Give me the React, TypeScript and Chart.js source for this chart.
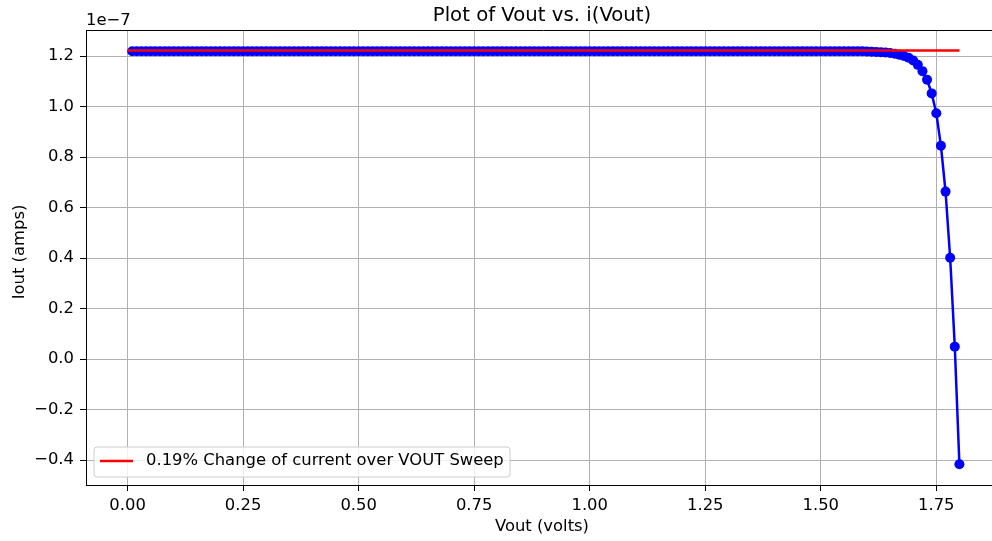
import { useEffect, useRef } from 'react';
import { Chart, registerables } from 'chart.js';

Chart.register(...registerables);

const FONT = '"DejaVu Sans", sans-serif';

// Vout sweep (volts)
const vout = [
  0.01, 0.02, 0.03, 0.04, 0.05, 0.06, 0.07, 0.08, 0.09, 0.10,
  0.11, 0.12, 0.13, 0.14, 0.15, 0.16, 0.17, 0.18, 0.19, 0.20,
  0.21, 0.22, 0.23, 0.24, 0.25, 0.26, 0.27, 0.28, 0.29, 0.30,
  0.31, 0.32, 0.33, 0.34, 0.35, 0.36, 0.37, 0.38, 0.39, 0.40,
  0.41, 0.42, 0.43, 0.44, 0.45, 0.46, 0.47, 0.48, 0.49, 0.50,
  0.51, 0.52, 0.53, 0.54, 0.55, 0.56, 0.57, 0.58, 0.59, 0.60,
  0.61, 0.62, 0.63, 0.64, 0.65, 0.66, 0.67, 0.68, 0.69, 0.70,
  0.71, 0.72, 0.73, 0.74, 0.75, 0.76, 0.77, 0.78, 0.79, 0.80,
  0.81, 0.82, 0.83, 0.84, 0.85, 0.86, 0.87, 0.88, 0.89, 0.90,
  0.91, 0.92, 0.93, 0.94, 0.95, 0.96, 0.97, 0.98, 0.99, 1.00,
  1.01, 1.02, 1.03, 1.04, 1.05, 1.06, 1.07, 1.08, 1.09, 1.10,
  1.11, 1.12, 1.13, 1.14, 1.15, 1.16, 1.17, 1.18, 1.19, 1.20,
  1.21, 1.22, 1.23, 1.24, 1.25, 1.26, 1.27, 1.28, 1.29, 1.30,
  1.31, 1.32, 1.33, 1.34, 1.35, 1.36, 1.37, 1.38, 1.39, 1.40,
  1.41, 1.42, 1.43, 1.44, 1.45, 1.46, 1.47, 1.48, 1.49, 1.50,
  1.51, 1.52, 1.53, 1.54, 1.55, 1.56, 1.57, 1.58, 1.59, 1.60,
  1.61, 1.62, 1.63, 1.64, 1.65, 1.66, 1.67, 1.68, 1.69, 1.70,
  1.71, 1.72, 1.73, 1.74, 1.75, 1.76, 1.77, 1.78, 1.79, 1.80,
];

// Iout in units of 1e-7 A
const iout = [
  1.219, 1.219, 1.219, 1.219, 1.219, 1.219, 1.219, 1.219, 1.219, 1.219,
  1.219, 1.219, 1.219, 1.219, 1.219, 1.219, 1.219, 1.219, 1.219, 1.219,
  1.219, 1.219, 1.219, 1.219, 1.219, 1.219, 1.219, 1.219, 1.219, 1.219,
  1.219, 1.219, 1.219, 1.219, 1.219, 1.219, 1.219, 1.219, 1.219, 1.219,
  1.219, 1.219, 1.219, 1.219, 1.219, 1.219, 1.219, 1.219, 1.219, 1.219,
  1.219, 1.219, 1.219, 1.219, 1.219, 1.219, 1.219, 1.219, 1.219, 1.219,
  1.219, 1.219, 1.219, 1.219, 1.219, 1.219, 1.219, 1.219, 1.219, 1.219,
  1.219, 1.219, 1.219, 1.219, 1.219, 1.219, 1.219, 1.219, 1.219, 1.219,
  1.219, 1.219, 1.219, 1.219, 1.219, 1.219, 1.219, 1.219, 1.219, 1.219,
  1.219, 1.219, 1.219, 1.219, 1.219, 1.219, 1.219, 1.219, 1.219, 1.219,
  1.219, 1.219, 1.219, 1.219, 1.219, 1.219, 1.219, 1.219, 1.219, 1.219,
  1.219, 1.219, 1.219, 1.219, 1.219, 1.219, 1.219, 1.219, 1.219, 1.219,
  1.219, 1.219, 1.219, 1.219, 1.219, 1.219, 1.219, 1.219, 1.219, 1.219,
  1.219, 1.219, 1.219, 1.219, 1.219, 1.219, 1.219, 1.219, 1.219, 1.219,
  1.219, 1.219, 1.219, 1.219, 1.219, 1.219, 1.219, 1.219, 1.219, 1.219,
  1.219, 1.219, 1.219, 1.219, 1.219, 1.219, 1.219, 1.219, 1.219, 1.218,
  1.217, 1.216, 1.215, 1.214, 1.212, 1.209, 1.205, 1.200, 1.193, 1.182,
  1.165, 1.140, 1.106, 1.052, 0.973, 0.845, 0.663, 0.401, 0.049, -0.417,
];

// Reference line (0.19% change)
const refX = [0, 1.8];
const refY = [1.2215, 1.2215];

const xTickValues = [0, 0.25, 0.5, 0.75, 1.0, 1.25, 1.5, 1.75];
const xTickLabels = ['0.00', '0.25', '0.50', '0.75', '1.00', '1.25', '1.50', '1.75'];
const yTickValues = [-0.4, -0.2, 0, 0.2, 0.4, 0.6, 0.8, 1.0, 1.2];
const yTickLabels = ['\u22120.4', '\u22120.2', '0.0', '0.2', '0.4', '0.6', '0.8', '1.0', '1.2'];

const titleText = 'Plot of Vout vs. i(Vout)';
const xLabel = 'Vout (volts)';
const yLabel = 'Iout (amps)';
const offsetText = '1e\u22127';
const legendText = '0.19% Change of current over VOUT Sweep';

const FS = 16.4;
const TITLE_FS = 19.7;

const decorPlugin = {
  id: 'decor',
  afterDraw(chart: any) {
    const { ctx, chartArea } = chart;
    const { left, right, top, bottom } = chartArea;
    ctx.save();
    // frame top/right
    ctx.strokeStyle = '#000';
    ctx.lineWidth = 1;
    ctx.beginPath();
    ctx.moveTo(left, top + 0.5);
    ctx.lineTo(right, top + 0.5);
    ctx.moveTo(right - 0.5, top);
    ctx.lineTo(right - 0.5, bottom);
    ctx.stroke();

    ctx.fillStyle = '#000';
    const cx = (left + right) / 2;
    // title
    ctx.font = `${TITLE_FS}px ${FONT}`;
    ctx.textAlign = 'center';
    ctx.textBaseline = 'alphabetic';
    ctx.fillText(titleText, 542, 21);
    // x label
    ctx.font = `${FS}px ${FONT}`;
    ctx.fillText(xLabel, 542, 531);
    // offset text
    ctx.textAlign = 'left';
    ctx.fillText(offsetText, left, 25);
    // y label
    ctx.save();
    ctx.translate(24, 252);
    ctx.rotate(-Math.PI / 2);
    ctx.textAlign = 'center';
    ctx.fillText(yLabel, 0, 0);
    ctx.restore();

    // legend
    const lx = 94, ly = 447, lw = 416, lh = 30, r = 3;
    ctx.beginPath();
    ctx.moveTo(lx + r, ly);
    ctx.lineTo(lx + lw - r, ly);
    ctx.quadraticCurveTo(lx + lw, ly, lx + lw, ly + r);
    ctx.lineTo(lx + lw, ly + lh - r);
    ctx.quadraticCurveTo(lx + lw, ly + lh, lx + lw - r, ly + lh);
    ctx.lineTo(lx + r, ly + lh);
    ctx.quadraticCurveTo(lx, ly + lh, lx, ly + lh - r);
    ctx.lineTo(lx, ly + r);
    ctx.quadraticCurveTo(lx, ly, lx + r, ly);
    ctx.closePath();
    ctx.fillStyle = 'rgba(255,255,255,0.8)';
    ctx.fill();
    ctx.strokeStyle = '#cccccc';
    ctx.lineWidth = 1;
    ctx.stroke();
    ctx.strokeStyle = '#ff0000';
    ctx.lineWidth = 2.5;
    ctx.beginPath();
    ctx.moveTo(100, 461);
    ctx.lineTo(133, 461);
    ctx.stroke();
    ctx.fillStyle = '#000';
    ctx.font = `${FS}px ${FONT}`;
    ctx.textAlign = 'left';
    ctx.textBaseline = 'middle';
    ctx.fillText(legendText, 146, 461);
    ctx.restore();
  },
};

export default function App() {
  const ref = useRef<HTMLCanvasElement | null>(null);

  useEffect(() => {
    if (!ref.current) return;
    const chart = new Chart(ref.current, {
      type: 'line',
      data: {
        datasets: [
          {
            label: legendText,
            data: refX.map((x, i) => ({ x, y: refY[i] })),
            borderColor: '#ff0000',
            backgroundColor: '#ff0000',
            borderWidth: 2.5,
            pointRadius: 0,
            tension: 0,
          },
          {
            label: 'Iout',
            data: vout.map((x, i) => ({ x, y: iout[i] })),
            borderColor: '#0000ff',
            backgroundColor: '#0000ff',
            borderWidth: 2.5,
            pointRadius: 5,
            pointBorderWidth: 0,
            pointBackgroundColor: '#0000ff',
            tension: 0,
          },
        ],
      },
      options: {
        responsive: false,
        animation: false,
        devicePixelRatio: 1,
        layout: { padding: { left: 0, right: 9, top: 30, bottom: 0 } },
        plugins: { legend: { display: false }, tooltip: { enabled: false }, title: { display: false } },
        scales: {
          x: {
            type: 'linear',
            min: -0.09,
            max: 1.89,
            afterFit: (s: any) => { s.height = 56; },
            afterBuildTicks: (s: any) => { s.ticks = xTickValues.map((v) => ({ value: v })); },
            ticks: {
              callback: (_v: any, i: number) => xTickLabels[i],
              font: { family: FONT, size: FS },
              color: '#000',
              padding: 5,
              maxRotation: 0,
              autoSkip: false,
            },
            grid: { color: '#b0b0b0', lineWidth: 1, tickColor: '#000', tickLength: 6, drawTicks: true },
            border: { color: '#000', width: 1 },
          },
          y: {
            type: 'linear',
            min: -0.499,
            max: 1.303,
            afterFit: (s: any) => { s.width = 86; },
            afterBuildTicks: (s: any) => { s.ticks = yTickValues.map((v) => ({ value: v })); },
            ticks: {
              callback: (_v: any, i: number) => yTickLabels[i],
              font: { family: FONT, size: FS },
              color: '#000',
              padding: 6,
              autoSkip: false,
            },
            grid: { color: '#b0b0b0', lineWidth: 1, tickColor: '#000', tickLength: 6, drawTicks: true },
            border: { color: '#000', width: 1 },
          },
        },
      },
      plugins: [decorPlugin],
    } as any);
    return () => chart.destroy();
  }, []);

  return (
    <div style={{ position: 'fixed', left: 0, top: 0, width: 992, height: 541, overflow: 'hidden', background: '#fff' }}>
      <canvas ref={ref} width={1010} height={541} style={{ width: 1010, height: 541, display: 'block' }} />
    </div>
  );
}
